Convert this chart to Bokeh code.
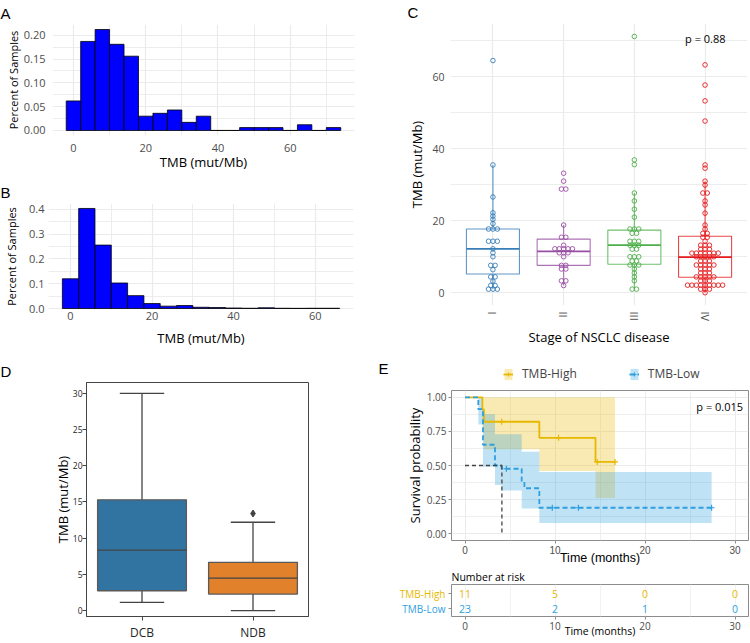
import math
from collections import Counter
from bokeh.plotting import figure
from bokeh.layouts import column, row
from bokeh.models import FixedTicker, Label, Legend, LegendItem, Range1d
from bokeh.core.properties import value
from bokeh.embed import file_html
from bokeh.resources import INLINE

FONT = "Open Sans"
LETTER_FONT = "Liberation Sans"
TICK_C = "#4D4D4D"
GRID_C = "#EBEBEB"

# ---------------- data ----------------
# Panel A histogram (bin centres, bin width 4)
a_bin_centers = [0, 4, 8, 12, 16, 20, 24, 28, 32, 36, 40, 44, 48, 52, 56, 60, 64, 68, 72]
a_fraction = [0.062, 0.187, 0.212, 0.181, 0.156, 0.030, 0.036, 0.043, 0.017, 0.030,
              0.0, 0.0, 0.006, 0.006, 0.006, 0.0, 0.012, 0.0, 0.006]
# Panel B histogram
b_bin_centers = [0, 4, 8, 12, 16, 20, 24, 28, 32, 36, 40, 44, 48, 52, 56, 60, 64]
b_fraction = [0.120, 0.404, 0.256, 0.103, 0.052, 0.020, 0.0095, 0.012, 0.005, 0.004,
              0.002, 0.001, 0.003, 0.001, 0.0007, 0.001, 0.001]
hist_bin_width = 4
a_yticks = [0.0, 0.05, 0.10, 0.15, 0.20]
a_ytick_labels = ["0.00", "0.05", "0.10", "0.15", "0.20"]
b_yticks = [0.0, 0.1, 0.2, 0.3, 0.4]
b_ytick_labels = ["0.0", "0.1", "0.2", "0.3", "0.4"]

# Panel C: TMB by stage
stages = ["I", "II", "III", "IV"]
stage_colors = ["#377EB8", "#984EA3", "#4DAF4A", "#E41A1C"]
stage_I_tmb = [64.5, 35.5, 26.6, 22.2, 21.3, 20.4, 19.2, 17.7, 17.7, 17.7, 14.3, 14.3, 14.3,
               12.2, 11.1, 10.0, 7.6, 7.6, 6.4, 4.4, 4.4, 3.2, 2.0, 2.0, 1.0, 1.0, 1.0]
stage_II_tmb = [33.2, 31.0, 28.8, 28.8, 18.8, 15.4, 15.4, 13.2, 12.2, 12.2, 12.2, 12.2, 12.2,
                11.1, 11.1, 11.1, 10.0, 7.6, 7.6, 6.6, 6.6, 3.3, 3.3, 2.0]
stage_III_tmb = [71.2, 36.9, 35.6, 27.7, 25.5, 23.2, 21.0, 17.7, 17.7, 17.7, 16.5, 16.5,
                 14.3, 14.3, 14.3, 13.2, 13.2, 13.2, 12.1, 12.1, 10.0, 10.0, 10.0, 8.8, 8.8,
                 7.7, 7.7, 7.7, 6.6, 5.5, 4.4, 3.3, 1.0, 1.0]
stage_IV_tmb = [63.3, 57.7, 53.3, 47.7, 35.5, 34.6, 31.0, 29.9, 27.7, 27.7, 25.5, 24.4, 22.1,
                18.8, 17.7, 16.5, 16.5, 15.4, 15.4, 14.3, 13.2, 13.2, 13.2, 12.1, 12.1, 12.1,
                11.0, 11.0, 11.0, 11.0, 11.0, 11.0, 11.0, 10.0, 10.0, 10.0, 10.0, 10.0,
                8.8, 8.8, 8.8, 7.7, 7.7, 7.7, 7.7, 7.7, 6.6, 6.6, 6.6, 5.5, 5.5, 5.5,
                4.4, 4.4, 4.4, 4.4, 4.4, 3.3, 3.3, 3.3, 2.1, 2.1, 2.1, 2.1, 2.1, 2.1, 2.1,
                2.1, 2.1, 1.0, 1.0, 1.0, 0.0]
stage_box_q1 = [5.2, 7.6, 7.9, 4.3]
stage_box_median = [12.2, 11.5, 13.2, 9.9]
stage_box_q3 = [17.7, 14.9, 17.4, 15.7]
stage_box_low = [1.0, 2.0, 1.0, 0.0]
stage_box_high = [35.5, 18.8, 27.7, 31.0]
stage_p_text = "p = 0.88"

# Panel D: DCB vs NDB
response_groups = ["DCB", "NDB"]
response_colors = ["#3274A1", "#E1812C"]
resp_q1 = [2.74, 2.28]
resp_median = [8.34, 4.47]
resp_q3 = [15.3, 6.66]
resp_low = [1.14, 0.0]
resp_high = [30.0, 12.2]
resp_outlier_group = [1]
resp_outlier_value = [13.4]

# Panel E: Kaplan-Meier
km_high_t = [0, 1.93, 2.1, 8.26, 14.5, 16.67]
km_high_s = [1.0, 0.912, 0.821, 0.703, 0.526, 0.526]
km_high_lo = [1.0, 0.75, 0.62, 0.46, 0.262, 0.262]
km_high_hi = [1.0, 1.0, 1.0, 1.0, 1.0, 1.0]
km_high_censor = [4.07, 10.4, 14.7, 16.67]
km_low_t = [0, 1.48, 2.0, 3.33, 4.07, 6.3, 6.6, 8.26, 27.4]
km_low_s = [1.0, 0.913, 0.652, 0.50, 0.476, 0.381, 0.333, 0.19, 0.19]
km_low_lo = [1.0, 0.80, 0.49, 0.357, 0.317, 0.184, 0.184, 0.079, 0.079]
km_low_hi = [1.0, 1.0, 0.876, 0.73, 0.73, 0.60, 0.60, 0.453, 0.453]
km_low_censor = [4.6, 9.7, 12.6, 27.4]
km_median_t = 4.1
km_p_text = "p = 0.015"
risk_groups = ["TMB-High", "TMB-Low"]
risk_times = [0, 10, 20, 30]
risk_high = [11, 5, 0, 0]
risk_low = [23, 2, 1, 0]
km_high_color = "#E7B800"
km_low_color = "#2E9FDF"


# ---------------- helpers ----------------
def style_axis(ax, tick_size, label_size, tick_color=TICK_C, label_color="black"):
    ax.major_label_text_font = FONT
    ax.major_label_text_font_size = tick_size
    ax.major_label_text_color = tick_color
    ax.axis_label_text_font = FONT
    ax.axis_label_text_font_size = label_size
    ax.axis_label_text_font_style = "normal"
    ax.axis_label_text_color = label_color


def no_ticks(ax):
    ax.axis_line_color = None
    ax.major_tick_line_color = None
    ax.minor_tick_line_color = None
    ax.major_tick_out = 0
    ax.major_tick_in = 0
    ax.minor_tick_out = 0
    ax.minor_tick_in = 0


def set_title(p, text, offset, standoff, size="15px", font=LETTER_FONT, valign="bottom"):
    p.title.text = text
    p.title.text_font = font
    p.title.text_font_size = size
    p.title.text_font_style = "normal"
    p.title.text_color = "black"
    p.title.align = "left"
    p.title.vertical_align = valign
    p.title.offset = offset
    p.title.standoff = standoff


def set_ticker(p, dim, ticks, minor):
    t = FixedTicker(ticks=ticks, minor_ticks=minor)
    if dim == "x":
        p.xaxis.ticker = t
        p.xgrid.ticker = t
    else:
        p.yaxis.ticker = t
        p.ygrid.ticker = t


def steps(t, v):
    xs, ys = [], []
    for i in range(len(t) - 1):
        xs += [t[i], t[i + 1]]
        ys += [v[i], v[i]]
    return xs, ys


def step_value(t, v, x):
    out = v[0]
    for ti, vi in zip(t, v):
        if ti <= x:
            out = vi
    return out


def hist_fig(centers, fracs, w, h, borders, xr, yr, yticks, ylabels, yminor, letter,
             loff, lstand, ls1x, ls2x, ls1y, ls2y, valign):
    p = figure(width=w, height=h, x_range=xr, y_range=yr,
               min_border_left=borders[0], min_border_right=borders[1],
               min_border_top=borders[2], min_border_bottom=borders[3],
               output_backend="svg", toolbar_location=None)
    p.outline_line_color = None
    left = [c - hist_bin_width / 2 for c in centers]
    right = [c + hist_bin_width / 2 for c in centers]
    p.quad(left=left, right=right, bottom=0, top=fracs, fill_color="#0000FF",
           line_color="black", line_width=0.8)
    set_ticker(p, "x", [0, 20, 40, 60], [10, 30, 50, 70])
    set_ticker(p, "y", yticks, yminor)
    p.yaxis.major_label_overrides = {t: l for t, l in zip(yticks, ylabels)}
    for ax in (p.xaxis[0], p.yaxis[0]):
        no_ticks(ax)
        style_axis(ax, "11px", "13px")
    p.yaxis.axis_label_text_font_size = "11px"
    p.xaxis.major_label_standoff = ls1x
    p.xaxis.axis_label_standoff = ls2x
    p.yaxis.major_label_standoff = ls1y
    p.yaxis.axis_label_standoff = ls2y
    p.xaxis.axis_label = "TMB (mut/Mb)"
    p.yaxis.axis_label = "Percent of Samples"
    for g in (p.xgrid[0], p.ygrid[0]):
        g.grid_line_color = GRID_C
        g.grid_line_width = 1.2
        g.minor_grid_line_color = GRID_C
        g.minor_grid_line_width = 0.9
    set_title(p, letter, loff, lstand, valign=valign)
    return p


# ---------------- Panel A & B ----------------
pA = hist_fig(a_bin_centers, a_fraction, 360, 173, (52, 6, 24, 38), (-5.8, 77.8),
              (-0.0106, 0.2226), a_yticks, a_ytick_labels, [0.025, 0.075, 0.125, 0.175],
              "A", -52, 2, 8, -2, 7, 0, "top")
pB = hist_fig(b_bin_centers, b_fraction, 360, 176, (48, 7, 30, 40), (-5.4, 69.4),
              (-0.004, 0.424), b_yticks, b_ytick_labels, [0.05, 0.15, 0.25, 0.35],
              "B", -48, 5, 2, 6, 4, 7, "bottom")

# ---------------- Panel C ----------------
pC = figure(width=390, height=349, x_range=(0.4, 4.6), y_range=(-3.55, 74.8),
            min_border_left=90, min_border_right=3, min_border_top=23, min_border_bottom=44,
            output_backend="svg", toolbar_location=None)
pC.outline_line_color = None
xpos = [1, 2, 3, 4]
half = 0.375
pC.quad(left=[x - half for x in xpos], right=[x + half for x in xpos],
        bottom=stage_box_q1, top=stage_box_q3, fill_color=None,
        line_color=stage_colors, line_width=1.1, line_alpha=0.8)
pC.segment(x0=[x - half for x in xpos], x1=[x + half for x in xpos],
           y0=stage_box_median, y1=stage_box_median, line_color=stage_colors, line_width=1.8)
pC.segment(x0=xpos, x1=xpos, y0=stage_box_q3, y1=stage_box_high,
           line_color=stage_colors, line_width=1.1, line_alpha=0.8)
pC.segment(x0=xpos, x1=xpos, y0=stage_box_q1, y1=stage_box_low,
           line_color=stage_colors, line_width=1.1, line_alpha=0.8)
dot_step = 0.062
for xi, vals, col in zip(xpos, [stage_I_tmb, stage_II_tmb, stage_III_tmb, stage_IV_tmb], stage_colors):
    cnt = Counter(vals)
    dx, dy = [], []
    for v, n in cnt.items():
        for k in range(n):
            dx.append(xi + (k - (n - 1) / 2) * dot_step)
            dy.append(v)
    pC.scatter(x=dx, y=dy, marker="circle", size=4.6, fill_color=None,
               line_color=col, line_width=0.9)
set_ticker(pC, "x", xpos, [])
set_ticker(pC, "y", [0, 20, 40, 60], [10, 30, 50, 70])
pC.xaxis.major_label_overrides = {x: s for x, s in zip(xpos, stages)}
pC.xaxis.major_label_orientation = "vertical"
for ax in (pC.xaxis[0], pC.yaxis[0]):
    no_ticks(ax)
    style_axis(ax, "11px", "13px")
pC.yaxis.major_label_text_font_size = "10.5px"
pC.xaxis.major_label_standoff = 6
pC.yaxis.major_label_standoff = 6
pC.xaxis.axis_label_standoff = 4
pC.yaxis.axis_label_standoff = 3
pC.xaxis.axis_label = "Stage of NSCLC disease"
pC.yaxis.axis_label = "TMB (mut/Mb)"
for g in (pC.xgrid[0], pC.ygrid[0]):
    g.grid_line_color = GRID_C
    g.grid_line_width = 1.2
    g.minor_grid_line_color = GRID_C
    g.minor_grid_line_width = 0.9
pC.add_layout(Label(x=4.29, y=70.6, text=stage_p_text, text_align="right",
                    text_baseline="middle", text_font=FONT, text_font_size="11px",
                    text_color="black"))
set_title(pC, "C", -43, 2, valign="top")

# ---------------- Panel D ----------------
pD = figure(width=360, height=294, x_range=(-0.5, 1.5), y_range=(-0.82, 31.5),
            min_border_left=86, min_border_right=52, min_border_top=33, min_border_bottom=25,
            output_backend="svg", toolbar_location=None)
DLINE = "#444444"
pD.outline_line_color = DLINE
pD.outline_line_width = 1
pD.xgrid.grid_line_color = None
pD.ygrid.grid_line_color = None
gx = [0, 1]
bh = 0.4
ch = 0.2
pD.segment(x0=gx, x1=gx, y0=resp_q3, y1=resp_high, line_color=DLINE, line_width=1.3)
pD.segment(x0=gx, x1=gx, y0=resp_q1, y1=resp_low, line_color=DLINE, line_width=1.3)
pD.segment(x0=[x - ch for x in gx], x1=[x + ch for x in gx], y0=resp_high, y1=resp_high,
           line_color=DLINE, line_width=1.3)
pD.segment(x0=[x - ch for x in gx], x1=[x + ch for x in gx], y0=resp_low, y1=resp_low,
           line_color=DLINE, line_width=1.3)
pD.quad(left=[x - bh for x in gx], right=[x + bh for x in gx], bottom=resp_q1, top=resp_q3,
        fill_color=response_colors, line_color="#5A5A5A", line_width=1.3)
pD.segment(x0=[x - bh for x in gx], x1=[x + bh for x in gx], y0=resp_median, y1=resp_median,
           line_color="#444444", line_width=1.3)
pD.scatter(x=resp_outlier_group, y=resp_outlier_value, marker="diamond", size=7,
           fill_color=DLINE, line_color=DLINE)
pD.xaxis.ticker = FixedTicker(ticks=gx)
pD.yaxis.ticker = FixedTicker(ticks=[0, 5, 10, 15, 20, 25, 30])
pD.xaxis.major_label_overrides = {x: s for x, s in zip(gx, response_groups)}
for ax in (pD.xaxis[0], pD.yaxis[0]):
    style_axis(ax, "8.5px", "13px", tick_color="#262626")
    ax.axis_line_color = DLINE
    ax.major_tick_line_color = DLINE
    ax.minor_tick_line_color = None
    ax.major_tick_out = 4
    ax.major_tick_in = 0
ax_x = pD.xaxis[0]
ax_x.major_label_standoff = 3
ax_x.major_label_text_font_size = "12px"
pD.yaxis.major_label_standoff = 0
pD.yaxis.axis_label = "TMB (mut/Mb)"
pD.yaxis.axis_label_standoff = -2
set_title(pD, "D", -86, 6)

# ---------------- Panel E header (letter + legend) ----------------
pH = figure(width=390, height=35, x_range=(360, 750), y_range=(384, 349),
            x_axis_type=None, y_axis_type=None, min_border_left=0, min_border_right=0,
            min_border_top=0, min_border_bottom=0, output_backend="svg",
            toolbar_location=None, title=None)
pH.outline_line_color = None
hx, hlo = steps(km_high_t, km_high_lo)
_, hhi = steps(km_high_t, km_high_hi)
lx, llo = steps(km_low_t, km_low_lo)
_, lhi = steps(km_low_t, km_low_hi)
lg_band_h = pH.varea(x=hx, y1=hlo, y2=hhi, fill_color=km_high_color, fill_alpha=0.3)
lg_line_h = pH.step(x=km_high_t, y=km_high_s, mode="after", line_color=km_high_color, line_width=1.8)
lg_cen_h = pH.scatter(x=km_high_censor, y=[0.5] * len(km_high_censor), marker="cross", size=6,
                      line_color=km_high_color, line_width=1.2)
lg_band_l = pH.varea(x=lx, y1=llo, y2=lhi, fill_color=km_low_color, fill_alpha=0.3)
lg_line_l = pH.step(x=km_low_t, y=km_low_s, mode="after", line_color=km_low_color, line_width=1.8,
                    line_dash="5 3")
lg_cen_l = pH.scatter(x=km_low_censor, y=[0.5] * len(km_low_censor), marker="cross", size=6,
                      line_color=km_low_color, line_width=1.2)
legend = Legend(items=[LegendItem(label=risk_groups[0], renderers=[lg_band_h, lg_line_h, lg_cen_h]),
                       LegendItem(label=risk_groups[1], renderers=[lg_band_l, lg_line_l, lg_cen_l])],
                orientation="horizontal", location=(143, 2), border_line_color=None,
                background_fill_alpha=0, label_text_font=FONT, label_text_font_size="12px",
                glyph_width=10, glyph_height=14, label_standoff=9, spacing=52,
                padding=2, margin=0)
pH.add_layout(legend)
pH.add_layout(Label(x=378, y=367.5, text="E", text_align="left", text_baseline="middle",
                    text_font=LETTER_FONT, text_font_size="15px", text_color="black"))

# ---------------- Panel E (survival curves) ----------------
pE = figure(width=390, height=183, x_range=(-1.5, 31.5), y_range=(-0.05, 1.05),
            min_border_left=91, min_border_right=2, min_border_top=6, min_border_bottom=24,
            output_backend="svg", toolbar_location=None, title=None)
pE.outline_line_color = "#8C8C8C"
pE.outline_line_width = 1
set_ticker(pE, "x", [0, 10, 20, 30], [5, 15, 25])
set_ticker(pE, "y", [0, 0.25, 0.5, 0.75, 1.0], [0.125, 0.375, 0.625, 0.875])
pE.yaxis.major_label_overrides = {0: "0.00", 0.25: "0.25", 0.5: "0.50", 0.75: "0.75", 1.0: "1.00"}
for g in (pE.xgrid[0], pE.ygrid[0]):
    g.grid_line_color = GRID_C
    g.grid_line_width = 1.0
    g.minor_grid_line_color = GRID_C
    g.minor_grid_line_width = 0.8
for ax in (pE.xaxis[0], pE.yaxis[0]):
    style_axis(ax, "10px", "13px")
    ax.axis_line_color = None
    ax.major_tick_line_color = "#8C8C8C"
    ax.minor_tick_line_color = None
    ax.major_tick_out = 3
    ax.major_tick_in = 0
    ax.major_label_standoff = 1
ex = pE.xaxis[0]
ex.axis_label = "Time (months)"
ex.major_label_text_font = "Liberation Sans"
ex.axis_label_text_font = "Liberation Sans"
ex.axis_label_text_font_size = "12.5px"
ex.axis_label_standoff = -6
pE.yaxis.axis_label = "Survival probability"
pE.yaxis.axis_label_standoff = 0

band_h = pE.varea(x=hx, y1=hlo, y2=hhi, fill_color=km_high_color, fill_alpha=0.3)
band_l = pE.varea(x=lx, y1=llo, y2=lhi, fill_color=km_low_color, fill_alpha=0.3)
pE.step(x=km_high_t, y=km_high_s, mode="after", line_color=km_high_color, line_width=1.8)
pE.step(x=km_low_t, y=km_low_s, mode="after", line_color=km_low_color, line_width=1.8,
        line_dash="5 3")
pE.scatter(x=km_high_censor, y=[step_value(km_high_t, km_high_s, t) for t in km_high_censor],
           marker="cross", size=6, line_color=km_high_color, line_width=1.2)
pE.scatter(x=km_low_censor, y=[step_value(km_low_t, km_low_s, t) for t in km_low_censor],
           marker="cross", size=6, line_color=km_low_color, line_width=1.2)
pE.line(x=[0, km_median_t], y=[0.5, 0.5], line_color="#444444", line_width=1.3, line_dash="4 3")
pE.line(x=[km_median_t, km_median_t], y=[0.5, 0.0], line_color="#444444", line_width=1.3,
        line_dash="4 3")
pE.add_layout(Label(x=30.9, y=0.93, text=km_p_text, text_align="right", text_baseline="middle",
                    text_font=FONT, text_font_size="11px", text_color="black"))

# ---------------- Risk table ----------------
risk_y = Range1d(0.5, 2.6)
pR = figure(width=303, height=76, x_range=(-1.5, 31.5), y_range=risk_y,
            min_border_left=4, min_border_right=2, min_border_top=16, min_border_bottom=27,
            output_backend="svg", toolbar_location=None)
pR.outline_line_color = "#8C8C8C"
set_ticker(pR, "x", [0, 10, 20, 30], [5, 15, 25])
pR.yaxis.ticker = FixedTicker(ticks=[1, 2])
pR.yaxis.major_label_overrides = {1: "", 2: ""}
pR.ygrid.grid_line_color = None
pR.xgrid.grid_line_color = "#F2F2F2"
pR.xgrid.minor_grid_line_color = "#F2F2F2"
for ax in (pR.xaxis[0], pR.yaxis[0]):
    style_axis(ax, "10px", "10.5px")
    ax.axis_line_color = None
    ax.major_tick_line_color = "#8C8C8C"
    ax.minor_tick_line_color = None
    ax.major_tick_out = 3
    ax.major_tick_in = 0
    ax.major_label_standoff = 1
pR.yaxis.major_label_standoff = 0
pR.xaxis.axis_label = "Time (months)"
pR.xaxis.axis_label_standoff = -9
rx = risk_times + risk_times
ry = [2] * len(risk_times) + [1] * len(risk_times)
rtxt = [str(v) for v in risk_high] + [str(v) for v in risk_low]
rcol = [km_high_color] * len(risk_times) + [km_low_color] * len(risk_times)
pR.text(x=rx, y=ry, text=rtxt, text_color=rcol, text_align="center", text_baseline="middle",
        text_font=value(FONT), text_font_size="10.5px")
set_title(pR, "Number at risk", 0, 1, size="10.5px", font=FONT)

pL = figure(width=87, height=76, x_range=(0, 1), y_range=risk_y,
            x_axis_type=None, y_axis_type=None, min_border_left=0, min_border_right=0,
            min_border_top=16, min_border_bottom=27, output_backend="svg",
            toolbar_location=None, title=None)
pL.outline_line_color = None
pL.text(x=[1, 1], y=[2, 1], text=risk_groups, text_color=[km_high_color, km_low_color],
        text_align="right", text_baseline="middle", x_offset=-2,
        text_font=value(FONT), text_font_size="10px")

left_col = column(row(pA), row(pB), row(pD))
right_col = column(row(pC), row(pH), row(pE), row(pL, pR))
layout = row(left_col, right_col)
open("out.html", "w").write(file_html(layout, INLINE))
